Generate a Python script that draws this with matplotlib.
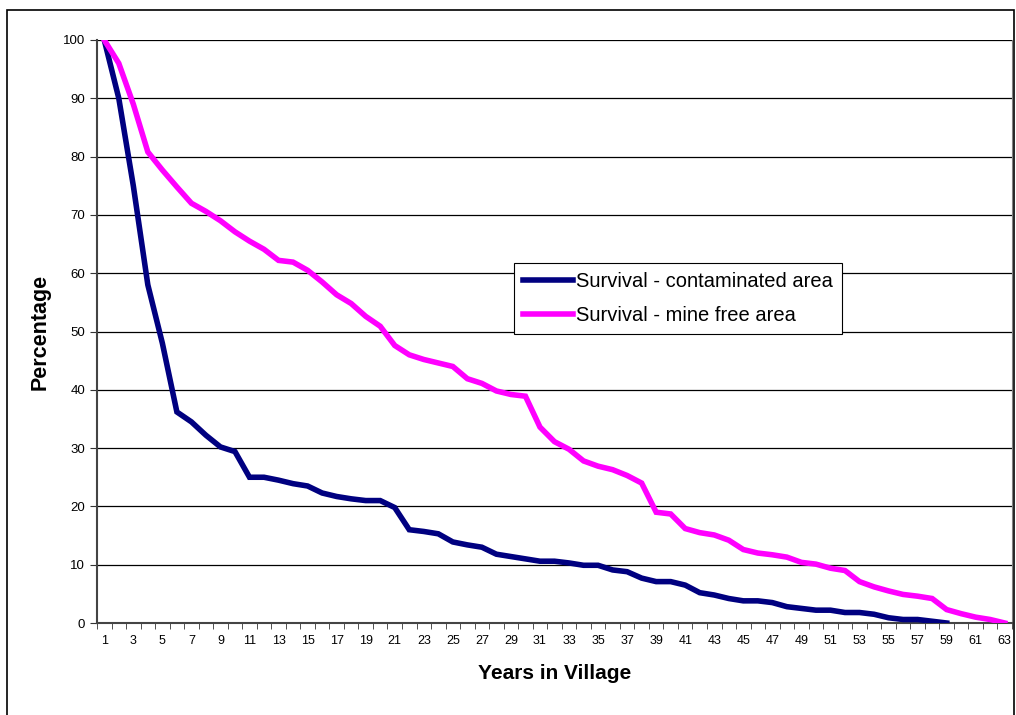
import numpy as np
import matplotlib.pyplot as plt
from matplotlib.patches import Rectangle

plt.rcParams['font.family'] = ['Liberation Sans', 'DejaVu Sans']

# Survival curves (percentage still in village by year)
years = np.arange(1, 64)
contaminated = [100, 90, 75, 58, 48, 36.2, 34.5, 32.2, 30.2, 29.4,
                25.0, 25.0, 24.5, 23.9, 23.5, 22.3, 21.7, 21.3, 21.0, 21.0,
                19.8, 16.0, 15.7, 15.3, 13.9, 13.4, 13.0, 11.8, 11.4, 11.0,
                10.6, 10.6, 10.3, 9.9, 9.9, 9.1, 8.8, 7.7, 7.1, 7.1,
                6.5, 5.2, 4.8, 4.2, 3.8, 3.8, 3.5, 2.8, 2.5, 2.2,
                2.2, 1.8, 1.8, 1.5, 0.9, 0.6, 0.6, 0.3, 0.0]
mine_free = [100, 96, 89, 80.8, 77.7, 74.8, 72.0, 70.6, 69.0, 67.1,
             65.5, 64.1, 62.2, 61.9, 60.5, 58.5, 56.3, 54.8, 52.6, 50.9,
             47.6, 46.0, 45.2, 44.6, 44.0, 41.9, 41.1, 39.8, 39.2, 38.9,
             33.6, 31.1, 29.8, 27.8, 26.9, 26.3, 25.3, 24.0, 19.0, 18.7,
             16.2, 15.5, 15.1, 14.2, 12.6, 12.0, 11.7, 11.3, 10.4, 10.1,
             9.4, 9.0, 7.1, 6.2, 5.5, 4.9, 4.6, 4.2, 2.3, 1.6,
             1.0, 0.6, 0.0]
tick_labels = [str(v) for v in years[::2]]

fig = plt.figure(figsize=(10.16, 7.15), dpi=100)
ax = fig.add_axes([97 / 1016, 1 - 623 / 715, 915 / 1016, 583 / 715])

# outer chart border
fig.patches.append(Rectangle((7 / 1016, -0.02), 1007 / 1016, 1 - 10 / 715 + 0.02,
                             transform=fig.transFigure, fill=False,
                             edgecolor='black', linewidth=1.2))

ax.plot(years[:len(contaminated)], contaminated, color='#000080', lw=4,
        solid_joinstyle='miter', label='Survival - contaminated area', zorder=3)
ax.plot(years, mine_free, color='#FF00FF', lw=4,
        solid_joinstyle='miter', label='Survival - mine free area', zorder=3)

ax.set_xlim(0.5, 63.5)
ax.set_ylim(0, 100)
ax.set_yticks(np.arange(0, 101, 10))
ax.yaxis.grid(True, color='black', lw=0.9)
ax.set_axisbelow(True)

ax.set_xticks(years[::2])
ax.set_xticklabels(tick_labels, fontsize=9)
ax.set_xticks(np.arange(0.5, 64, 1), minor=True)
ax.tick_params(axis='x', which='major', length=0, pad=9)
ax.tick_params(axis='x', which='minor', length=4, direction='out', color='#333333')
ax.tick_params(axis='y', length=5, direction='out', labelsize=9.5, color='#333333')

ax.spines['top'].set_visible(False)
ax.spines['right'].set_color('#808080')
ax.spines['left'].set_color('#444444')
ax.spines['left'].set_linewidth(1.5)
ax.spines['bottom'].set_color('#444444')
ax.spines['bottom'].set_linewidth(1.5)

ax.set_xlabel('Years in Village', fontsize=15, fontweight='bold', labelpad=12)
ax.set_ylabel('Percentage', fontsize=15.5, fontweight='bold', labelpad=9)

leg = ax.legend(loc='upper left', bbox_to_anchor=(417 / 915, (623 - 263) / 583),
                fontsize=14.5, frameon=True, fancybox=False, edgecolor='black',
                framealpha=1, handlelength=2.5, handletextpad=0.15,
                borderpad=0.45, labelspacing=0.75, borderaxespad=0)
leg.get_frame().set_linewidth(0.8)

fig.savefig('out.png', dpi=100)
